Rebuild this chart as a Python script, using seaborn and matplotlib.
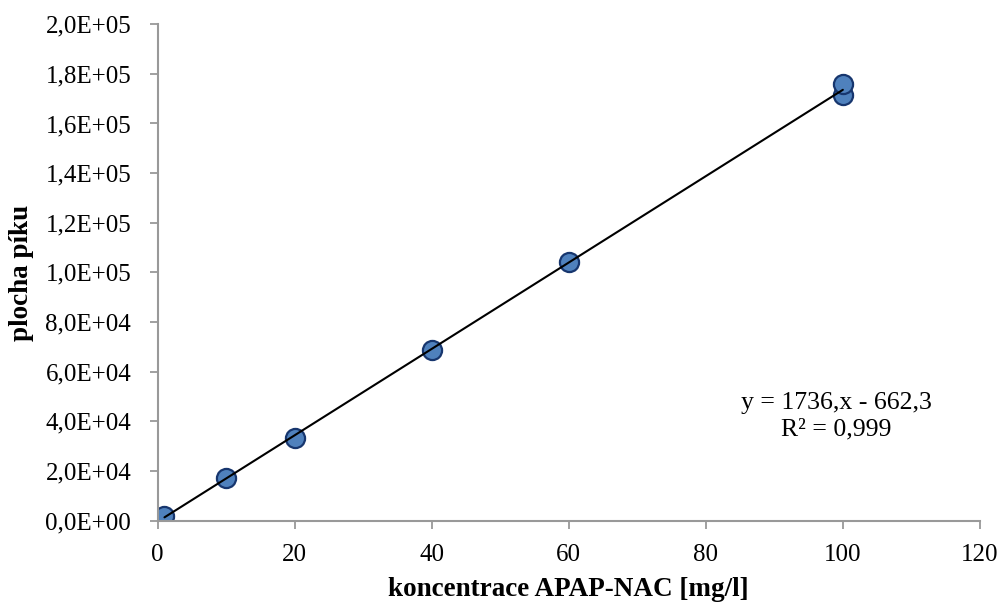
import matplotlib
matplotlib.use('Agg')
import matplotlib.pyplot as plt
import seaborn as sns
import numpy as np
from matplotlib.ticker import FuncFormatter

# calibration data
koncentrace = [1, 10, 20, 40, 60, 100, 100]
plocha = [2000, 17300, 33400, 68800, 104200, 171400, 175900]

y_ticks = [0, 20000, 40000, 60000, 80000, 100000, 120000, 140000, 160000, 180000, 200000]
x_ticks = [0, 20, 40, 60, 80, 100, 120]

sns.set_theme(style='white')
plt.rcParams['font.family'] = ['Liberation Serif', 'DejaVu Serif']
plt.rcParams['text.color'] = 'black'

fig, ax = plt.subplots(figsize=(10.04, 6.04), dpi=100)
fig.subplots_adjust(left=0.157, right=0.976, top=0.96, bottom=0.138)

# linear trend line
k, q = np.polyfit(koncentrace, plocha, 1)
xs = np.array([min(koncentrace), max(koncentrace)])
ax.plot(xs, k * xs + q, color='black', lw=1.5, zorder=3)

sns.scatterplot(x=koncentrace, y=plocha, ax=ax, s=190, color='#4F81BD',
                edgecolor='#17366E', linewidth=1.6, zorder=2)

ax.set_xlim(0, 120)
ax.set_ylim(0, 200000)
ax.set_xticks(x_ticks)
ax.set_yticks(y_ticks)


def sci_fmt(v, pos):
    s = '{:.1E}'.format(v).replace('.', ',')
    return s


ax.yaxis.set_major_formatter(FuncFormatter(sci_fmt))
ax.tick_params(axis='both', labelsize=18, labelcolor='black', length=6, width=1.3,
               direction='out', bottom=True, left=True, color='#999999')
ax.tick_params(axis='y', pad=13)
ax.tick_params(axis='x', pad=11)
for side in ['top', 'right']:
    ax.spines[side].set_visible(False)
for side in ['left', 'bottom']:
    ax.spines[side].set_color('#999999')
    ax.spines[side].set_linewidth(1.5)

ax.set_xlabel('koncentrace APAP-NAC [mg/l]', fontsize=19.5, fontweight='bold',
              labelpad=8, color='black')
ax.set_ylabel('plocha píku', fontsize=19.5, fontweight='bold', labelpad=8, color='black')

ax.text(0.825, 0.21, 'y = 1736,x - 662,3\nR² = 0,999', transform=ax.transAxes,
        ha='center', va='center', fontsize=18.5, linespacing=1.3, color='black')

fig.savefig('out.png', dpi=100)
